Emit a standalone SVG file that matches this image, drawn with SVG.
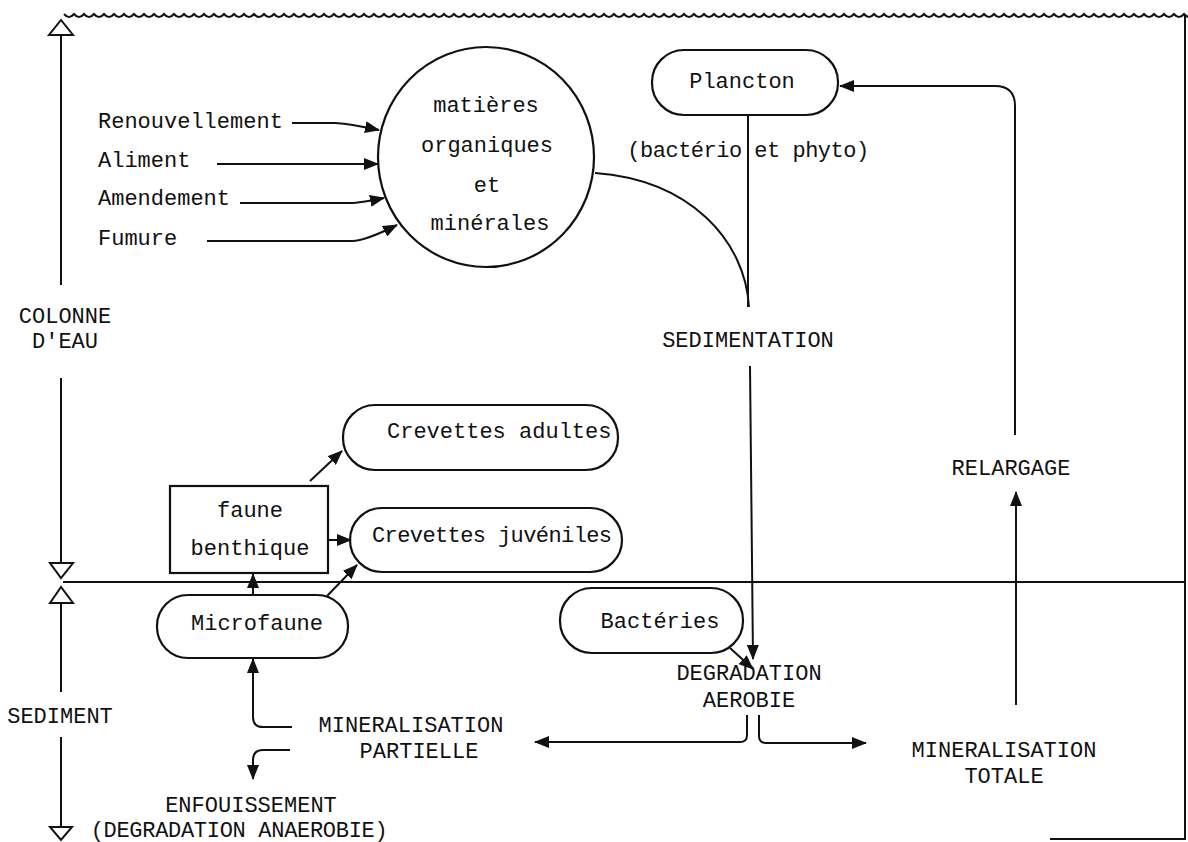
<svg xmlns="http://www.w3.org/2000/svg" width="1188" height="842" viewBox="0 0 1188 842">
<style>
text{font-family:"Liberation Mono","Courier New",monospace;font-size:22px;letter-spacing:0;fill:#111}
.m{text-anchor:middle}
.s{fill:none;stroke:#111;stroke-width:2.2}
.c{fill:none;stroke:#111;stroke-width:2;marker-end:url(#ah)}
.l{fill:none;stroke:#111;stroke-width:2}
.t{fill:#fff;stroke:#111;stroke-width:2}
</style>
<defs>
<marker id="ah" viewBox="0 0 15 12" refX="14" refY="6" markerWidth="15" markerHeight="12" markerUnits="userSpaceOnUse" orient="auto"><path d="M0,0 L15,6 L0,12 Z" fill="#111"/></marker>
</defs>
<rect width="1188" height="842" fill="#fff"/>
<g id="frame">
<path class="l" stroke-width="1.8" d="M64,14 q5,6 10,0 q5,6 10,0 q5,6 10,0 q5,6 10,0 q5,6 10,0 q5,6 10,0 q5,6 10,0 q5,6 10,0 q5,6 10,0 q5,6 10,0 q5,6 10,0 q5,6 10,0 q5,6 10,0 q5,6 10,0 q5,6 10,0 q5,6 10,0 q5,6 10,0 q5,6 10,0 q5,6 10,0 q5,6 10,0 q5,6 10,0 q5,6 10,0 q5,6 10,0 q5,6 10,0 q5,6 10,0 q5,6 10,0 q5,6 10,0 q5,6 10,0 q5,6 10,0 q5,6 10,0 q5,6 10,0 q5,6 10,0 q5,6 10,0 q5,6 10,0 q5,6 10,0 q5,6 10,0 q5,6 10,0 q5,6 10,0 q5,6 10,0 q5,6 10,0 q5,6 10,0 q5,6 10,0 q5,6 10,0 q5,6 10,0 q5,6 10,0 q5,6 10,0 q5,6 10,0 q5,6 10,0 q5,6 10,0 q5,6 10,0 q5,6 10,0 q5,6 10,0 q5,6 10,0 q5,6 10,0 q5,6 10,0 q5,6 10,0 q5,6 10,0 q5,6 10,0 q5,6 10,0 q5,6 10,0 q5,6 10,0 q5,6 10,0 q5,6 10,0 q5,6 10,0 q5,6 10,0 q5,6 10,0 q5,6 10,0 q5,6 10,0 q5,6 10,0 q5,6 10,0 q5,6 10,0 q5,6 10,0 q5,6 10,0 q5,6 10,0 q5,6 10,0 q5,6 10,0 q5,6 10,0 q5,6 10,0 q5,6 10,0 q5,6 10,0 q5,6 10,0 q5,6 10,0 q5,6 10,0 q5,6 10,0 q5,6 10,0 q5,6 10,0 q5,6 10,0 q5,6 10,0 q5,6 10,0 q5,6 10,0 q5,6 10,0 q5,6 10,0 q5,6 10,0 q5,6 10,0 q5,6 10,0 q5,6 10,0 q5,6 10,0 q5,6 10,0 q5,6 10,0 q5,6 10,0 q5,6 10,0 q5,6 10,0 q5,6 10,0 q5,6 10,0 q5,6 10,0 q5,6 10,0 q5,6 10,0 q5,6 10,0 q5,6 10,0 q5,6 10,0 q5,6 10,0 q5,6 10,0 q5,6 10,0 q5,6 10,0 q5,6 10,0"/>
<path class="l" d="M1185,14 V840 M63,582 H1185"/>
<path class="l" stroke="#666" stroke-width="1.5" d="M1050,839 H1185"/>
<path class="l" d="M61,35 V285 M61,378 V563 M61,603 V692 M61,737 V827"/>
<polygon class="t" points="61,20 49,35 73,35"/>
<polygon class="t" points="50,563 73,563 61,578"/>
<polygon class="t" points="61,587 50,603 73,603"/>
<polygon class="t" points="50,827 72,827 61,840"/>
</g>
<g id="labels">
<text class="m" x="65" y="323">COLONNE</text>
<text class="m" x="65" y="348">D'EAU</text>
<text class="m" x="60" y="723">SEDIMENT</text>
<text x="98" y="128">Renouvellement</text>
<text x="98" y="167">Aliment</text>
<text x="98" y="205">Amendement</text>
<text x="98" y="245">Fumure</text>
<text class="m" x="748" y="157" style="letter-spacing:-0.5px">(bactério et phyto)</text>
<text class="m" x="748" y="347">SEDIMENTATION</text>
<text class="m" x="1011" y="475">RELARGAGE</text>
<text class="m" x="749" y="680">DEGRADATION</text>
<text class="m" x="749" y="707">AEROBIE</text>
<text class="m" x="411" y="732">MINERALISATION</text>
<text class="m" x="419" y="758">PARTIELLE</text>
<text class="m" x="1004" y="757">MINERALISATION</text>
<text class="m" x="1004" y="783">TOTALE</text>
<text class="m" x="251" y="812">ENFOUISSEMENT</text>
<text class="m" x="239" y="837" style="letter-spacing:-0.3px">(DEGRADATION ANAEROBIE)</text>
</g>
<g id="matieres">
<ellipse class="s" cx="486" cy="157" rx="108" ry="110"/>
<text class="m" x="486" y="112">matières</text>
<text class="m" x="487" y="152">organiques</text>
<text class="m" x="487" y="192">et</text>
<text class="m" x="490" y="230">minérales</text>
</g>
<g id="plancton">
<rect class="s" x="652" y="50" width="186" height="65" rx="32"/>
<text class="m" x="742" y="88">Plancton</text>
</g>
<g id="crevettes-adultes">
<rect class="s" x="343" y="405" width="275" height="65" rx="32"/>
<text x="387" y="438">Crevettes adultes</text>
</g>
<g id="crevettes-juveniles">
<rect class="s" x="350" y="508" width="272" height="64" rx="32"/>
<text x="372" y="542" style="letter-spacing:-0.6px">Crevettes juvéniles</text>
</g>
<g id="faune-benthique">
<rect class="s" x="170" y="486" width="158" height="87"/>
<text class="m" x="250" y="517">faune</text>
<text class="m" x="250" y="555">benthique</text>
</g>
<g id="microfaune">
<rect class="s" x="157" y="595" width="191" height="63" rx="31"/>
<text class="m" x="257" y="630">Microfaune</text>
</g>
<g id="bacteries">
<rect class="s" x="560" y="588" width="183" height="65" rx="32"/>
<text class="m" x="660" y="628">Bactéries</text>
</g>
<g id="connectors">
<path class="c" d="M292,123 H335 Q345,123 379,130"/>
<path class="c" d="M217,164 H378"/>
<path class="c" d="M240,203 H350 Q360,203 384,198"/>
<path class="c" d="M207,241 H352 Q365,241 397,225"/>
<path class="l" d="M595,173 C690,180 745,240 749,307"/>
<path class="l" d="M748,115 V307"/>
<path class="c" d="M750,366 L753,659"/>
<path class="c" d="M1015,435 V106 Q1015,86 995,86 H840"/>
<path class="c" d="M1016,705 V492"/>
<path class="c" d="M730,648 L753,669"/>
<path class="c" d="M747,715 V735 Q747,742 740,742 H535"/>
<path class="c" d="M759,715 V736 Q759,743 766,743 H866"/>
<path class="c" d="M292,727 H263 Q253,727 253,717 V659"/>
<path class="c" d="M290,750 H263 Q253,750 253,760 V779"/>
<path class="c" d="M253,595 V574"/>
<path class="c" d="M327,596 L357,565"/>
<path class="c" d="M328,540 H351"/>
<path class="c" d="M310,481 L342,451"/>
</g>
</svg>
